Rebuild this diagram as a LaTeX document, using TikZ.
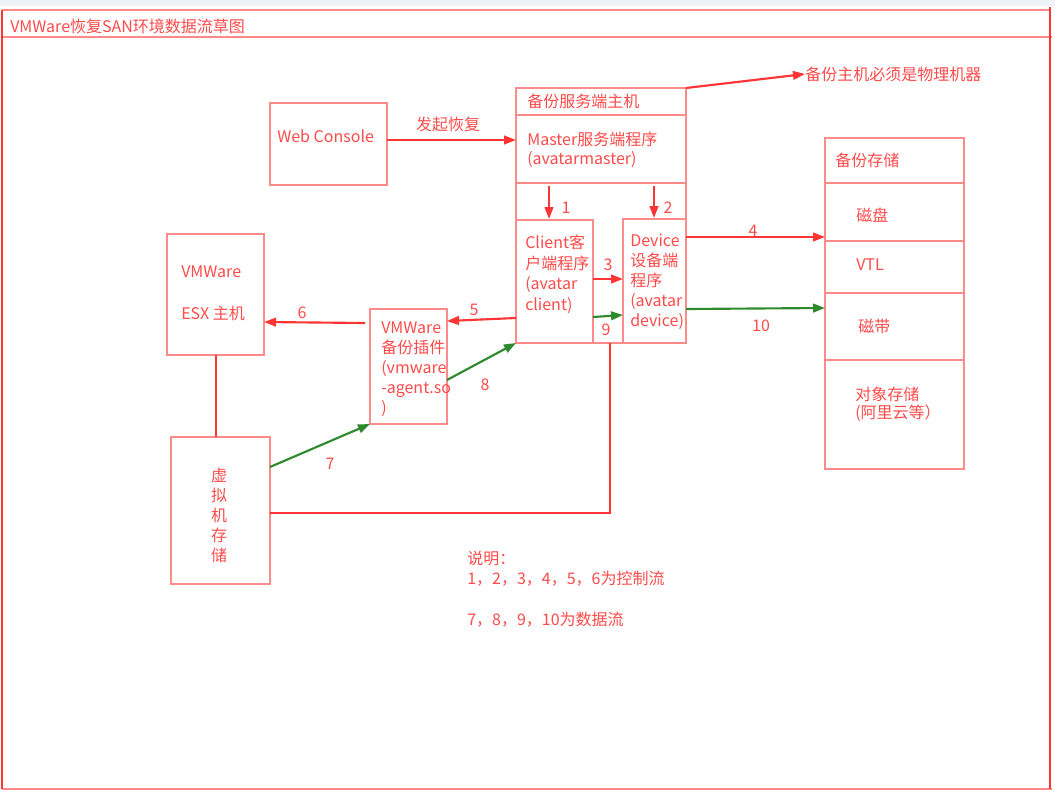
\documentclass[tikz,border=0pt]{standalone}
\usepackage{fontspec}
\setmainfont{Noto Sans CJK SC}
\usetikzlibrary{arrows.meta}
\definecolor{txtred}{HTML}{FF4A4A}
\definecolor{boxred}{HTML}{FF8A8A}
\definecolor{linered}{HTML}{FF3434}
\definecolor{datagreen}{HTML}{2F8A2F}
\definecolor{topgray}{HTML}{EEF3F8}
\def\px{0.75pt}
\tikzset{
  box/.style={draw=boxred, line width=1pt, inner sep=0pt, outer sep=0pt, anchor=north west},
  txt/.style={text=txtred, font=\fontsize{12}{14.5}\selectfont, inner sep=0pt, anchor=west, align=left},
  ctrl/.style={draw=linered, line width=1.6pt, -{Triangle[length=9pt,width=6.5pt]}},
  data/.style={draw=datagreen, line width=1.6pt, -{Triangle[length=9pt,width=6.5pt]}},
  link/.style={draw=linered, line width=1.4pt}
}
\begin{document}
\begin{tikzpicture}[x=0.75pt,y=-0.75pt]
\useasboundingbox (0,0) rectangle (1055,792);
\fill[topgray] (0,0) rectangle (1055,6);
% frame
\draw[boxred, line width=1.8pt] (2,10) -- (1050,10);
\draw[boxred, line width=1.8pt] (2,37) -- (1052,37);
\draw[boxred, line width=1.8pt] (2,789) -- (1052,789);
\draw[linered, line width=1.2pt] (2,10) -- (2,789);
\draw[linered, line width=1.2pt] (1050,7) -- (1050,789);
\node[txt] (title) at (10,26) {VMWare恢复SAN环境数据流草图};

% boxes
\node[box, minimum width=117*\px, minimum height=82*\px] (web) at (270,103) {};
\node[box, minimum width=170*\px, minimum height=255*\px] (host) at (516,88) {};
\node[box, minimum width=77*\px, minimum height=123*\px] (client) at (516,220) {};
\node[box, minimum width=63*\px, minimum height=124*\px] (device) at (623,219) {};
\node[box, minimum width=97*\px, minimum height=121*\px] (esx) at (167,234) {};
\node[box, minimum width=77*\px, minimum height=115*\px] (plugin) at (370,309) {};
\node[box, minimum width=99*\px, minimum height=147*\px] (vmstore) at (171,437) {};
\node[box, minimum width=139*\px, minimum height=331*\px] (store) at (825,138) {};
\draw[boxred, line width=1pt] (516,115) -- (686,115);
\draw[boxred, line width=1pt] (516,183) -- (686,183);
\foreach \y in {183,241,293,360}
  \draw[boxred, line width=1pt] (825,\y) -- (964,\y);

% texts
\node[txt] (webtxt) at (277,136) {Web Console};
\node[txt] (hosttxt) at (527,101) {备份服务端主机};
\node[txt] (mastertxt) at (527,150) {Master服务端程序\\(avatarmaster)};
\node[txt, font=\fontsize{12}{15.4}\selectfont] (clienttxt) at (525,274.5) {Client客\\户端程序\\(avatar\\client)};
\node[txt, font=\fontsize{12}{15}\selectfont] (devicetxt) at (630,282) {Device\\设备端\\程序\\(avatar\\device)};
\node[txt] (esxa) at (181,272) {VMWare};
\node[txt] (esxb) at (181,313) {ESX 主机};
\node[txt, font=\fontsize{12}{15}\selectfont] (plugintxt) at (381,369) {VMWare\\备份插件\\(vmware\\-agent.so\\)};
\node[txt, anchor=center, align=center, font=\fontsize{12}{15}\selectfont] (vmtxt) at (219,515) {虚\\拟\\机\\存\\储};
\node[txt] (storetxt) at (835,160) {备份存储};
\node[txt] (disk) at (856,215) {磁盘};
\node[txt] (vtl) at (856,265) {VTL};
\node[txt] (tape) at (858,326) {磁带};
\node[txt, font=\fontsize{12}{13.5}\selectfont] (oss) at (855,404) {对象存储\\(阿里云等）};
\node[txt] (note) at (805,74) {备份主机必须是物理机器};
\node[txt] (legend) at (467,558) {说明：};
\node[txt] (ctrlnote) at (467,579) {1，2，3，4，5，6为控制流};
\node[txt] (datanote) at (467,620) {7，8，9，10为数据流};

% arrows
\draw[ctrl] (web.east |- 0,140) -- (host.west |- 0,140);
\node[txt, anchor=center] (restore) at (448,124) {发起恢复};
\draw[ctrl] (host.north east) -- (note.west);
\draw[ctrl] (549,186) -- (549,219);
\node[txt, anchor=center] (n1) at (566,208) {1};
\draw[ctrl] (654,186) -- (654,218);
\node[txt, anchor=center] (n2) at (668,208) {2};
\draw[ctrl] (client.east |- 0,279) -- (device.west |- 0,279);
\node[txt, anchor=center] (n3) at (608,265) {3};
\draw[data] (client.east |- 0,317) -- (device.west |- 0,315);
\node[txt, anchor=center] (n9) at (606,330) {9};
\draw[ctrl] (device.east |- 0,237) -- (store.west |- 0,237);
\node[txt, anchor=center] (n4) at (753,231) {4};
\draw[data] (device.east |- 0,309) -- (store.west |- 0,308);
\node[txt, anchor=center] (n10) at (761,326) {10};
\draw[ctrl] (client.west |- 0,318) -- (plugin.east |- 0,321);
\node[txt, anchor=center] (n5) at (474,310) {5};
\draw[ctrl] (plugin.west |- 0,323) ++(-5,0) -- (esx.east |- 0,322);
\node[txt, anchor=center] (n6) at (302,313) {6};
\draw[data] (plugin.east |- 0,380) -- (client.south west);
\node[txt, anchor=center] (n8) at (485,385) {8};
\draw[data] (vmstore.east |- 0,467) -- (plugin.south west);
\node[txt, anchor=center] (n7) at (330,464) {7};
\draw[link] (216,355) -- (216,437);
\draw[link] (vmstore.east |- 0,513) -| (610,343);
\end{tikzpicture}
\end{document}
